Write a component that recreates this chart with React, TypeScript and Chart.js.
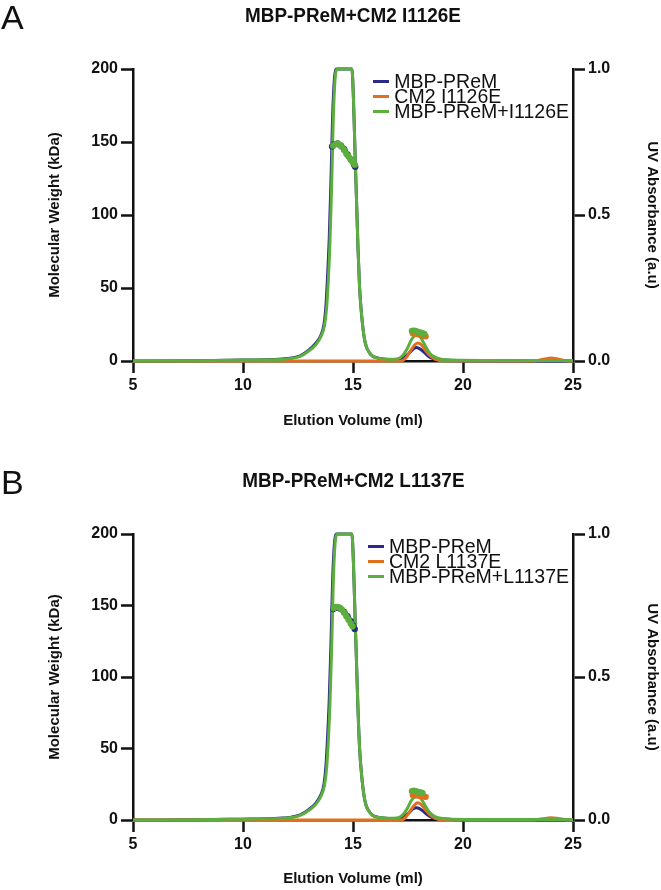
import React, { useEffect, useRef } from 'react';
import { Chart, registerables } from 'chart.js';
Chart.register(...registerables);

const FONT = '"Liberation Sans", Arial, Helvetica, sans-serif';
const BLUE = '#2b2a86';
const ORANGE = '#e0701f';
const GREEN = '#5cae3e';

// Axis settings
const X_MIN = 5, X_MAX = 25, X_STEP = 5;
const MW_MIN = 0, MW_MAX = 200, MW_STEP = 50;
const UV_MIN = 0, UV_MAX = 1, UV_STEP = 0.5;
const X_TITLE = 'Elution Volume (ml)';
const MW_TITLE = 'Molecular Weight (kDa)';
const UV_TITLE = 'UV Absorbance (a.u)';

// ---------- Panel A ----------
const A_LETTER = 'A';
const A_TITLE = 'MBP-PReM+CM2 I1126E';
const A_LABELS = ['MBP-PReM', 'CM2 I1126E', 'MBP-PReM+I1126E'];

const A_BLUE_UV_X = [5, 8, 10, 11, 11.8, 12.2, 12.6, 13.0, 13.3, 13.55, 13.68, 13.77, 13.85, 13.92, 14.0, 14.07, 14.15, 14.25, 14.95, 15.02, 15.09, 15.16, 15.23, 15.3, 15.4, 15.5, 15.6, 15.75, 15.9, 16.2, 16.6, 17.0, 17.3, 17.55, 17.75, 17.88, 18.0, 18.2, 18.4, 18.6, 18.9, 19.5, 21, 25];
const A_BLUE_UV_Y = [0, 0.001, 0.003, 0.004, 0.007, 0.01, 0.018, 0.038, 0.06, 0.09, 0.125, 0.19, 0.3, 0.42, 0.62, 0.83, 0.96, 1.0, 1.0, 0.9, 0.72, 0.55, 0.38, 0.25, 0.15, 0.085, 0.05, 0.028, 0.016, 0.009, 0.005, 0.004, 0.01, 0.027, 0.042, 0.046, 0.043, 0.032, 0.018, 0.009, 0.004, 0.002, 0.001, 0];

const A_ORANGE_UV_X = [5, 17.2, 17.4, 17.6, 17.8, 17.95, 18.1, 18.3, 18.5, 18.75, 19.1, 23.2, 23.6, 24.0, 24.35, 24.7, 25];
const A_ORANGE_UV_Y = [0, 0, 0.01, 0.033, 0.055, 0.062, 0.056, 0.036, 0.018, 0.006, 0.001, 0, 0.005, 0.01, 0.006, 0.001, 0];

const A_GREEN_UV_X = [5, 8, 10, 11, 11.8, 12.2, 12.6, 13.0, 13.3, 13.55, 13.7, 13.8, 13.88, 13.95, 14.03, 14.1, 14.18, 14.28, 14.95, 15.02, 15.09, 15.16, 15.23, 15.3, 15.4, 15.5, 15.6, 15.75, 15.9, 16.2, 16.6, 17.0, 17.25, 17.45, 17.65, 17.8, 17.92, 18.05, 18.2, 18.35, 18.5, 18.7, 19.0, 19.5, 21, 23, 25];
const A_GREEN_UV_Y = [0, 0.001, 0.003, 0.004, 0.006, 0.009, 0.016, 0.035, 0.055, 0.085, 0.12, 0.18, 0.28, 0.4, 0.6, 0.82, 0.96, 1.0, 1.0, 0.9, 0.72, 0.55, 0.38, 0.25, 0.15, 0.085, 0.05, 0.028, 0.016, 0.009, 0.006, 0.007, 0.018, 0.04, 0.072, 0.086, 0.09, 0.083, 0.064, 0.043, 0.026, 0.014, 0.006, 0.003, 0.002, 0.002, 0.001];

const A_BLUE_MW_X = [14.05, 14.15, 14.3, 14.45, 14.6, 14.75, 14.9, 15.05, 15.1];
const A_BLUE_MW_Y = [147, 148.5, 149, 147.5, 145, 141.5, 138, 134.5, 133];
const A_ORANGE_MW_X = [17.72, 17.82, 17.92, 18.02, 18.12, 18.22, 18.3];
const A_ORANGE_MW_Y = [19, 18.8, 18.5, 18.2, 17.8, 17.4, 17];
const A_GREEN_MW_X = [14.1, 14.2, 14.3, 14.4, 14.5, 14.6, 14.7, 14.8, 14.9, 15.0, 15.08];
const A_GREEN_MW_Y = [147.5, 148.5, 149, 148, 146.5, 144.5, 142, 140, 138, 136, 134.5];
const A_GREEN_MW2_X = [17.68, 17.76, 17.84, 17.92, 18.0, 18.08, 18.16, 18.24];
const A_GREEN_MW2_Y = [20.5, 20.8, 20.5, 20, 19.7, 19.4, 19, 18.6];

// ---------- Panel B ----------
const B_LETTER = 'B';
const B_TITLE = 'MBP-PReM+CM2 L1137E';
const B_LABELS = ['MBP-PReM', 'CM2 L1137E', 'MBP-PReM+L1137E'];

const B_BLUE_UV_X = [5, 8, 10, 11, 11.8, 12.2, 12.6, 13.0, 13.3, 13.55, 13.68, 13.77, 13.85, 13.92, 14.0, 14.07, 14.15, 14.25, 14.95, 15.02, 15.09, 15.16, 15.23, 15.3, 15.4, 15.5, 15.6, 15.75, 15.9, 16.2, 16.6, 17.0, 17.3, 17.55, 17.75, 17.88, 18.0, 18.2, 18.4, 18.6, 18.9, 19.5, 21, 25];
const B_BLUE_UV_Y = [0, 0.001, 0.003, 0.004, 0.007, 0.01, 0.018, 0.037, 0.058, 0.09, 0.125, 0.19, 0.3, 0.42, 0.62, 0.83, 0.96, 1.0, 1.0, 0.9, 0.72, 0.55, 0.38, 0.25, 0.15, 0.085, 0.05, 0.028, 0.016, 0.009, 0.005, 0.004, 0.01, 0.026, 0.04, 0.043, 0.041, 0.03, 0.017, 0.008, 0.004, 0.002, 0.001, 0];

const B_ORANGE_UV_X = [5, 17.2, 17.4, 17.6, 17.8, 17.95, 18.1, 18.3, 18.5, 18.75, 19.1, 23.2, 23.6, 24.0, 24.35, 24.7, 25];
const B_ORANGE_UV_Y = [0, 0, 0.01, 0.032, 0.053, 0.06, 0.054, 0.035, 0.018, 0.006, 0.001, 0, 0.004, 0.008, 0.005, 0.001, 0];

const B_GREEN_UV_X = [5, 8, 10, 11, 11.8, 12.2, 12.6, 13.0, 13.3, 13.55, 13.7, 13.8, 13.88, 13.95, 14.03, 14.1, 14.18, 14.28, 14.95, 15.02, 15.09, 15.16, 15.23, 15.3, 15.4, 15.5, 15.6, 15.75, 15.9, 16.2, 16.6, 17.0, 17.25, 17.45, 17.65, 17.8, 17.92, 18.05, 18.2, 18.35, 18.5, 18.7, 19.0, 19.5, 21, 23, 25];
const B_GREEN_UV_Y = [0, 0.001, 0.003, 0.004, 0.006, 0.009, 0.016, 0.034, 0.054, 0.084, 0.12, 0.18, 0.28, 0.4, 0.6, 0.82, 0.96, 1.0, 1.0, 0.9, 0.72, 0.55, 0.38, 0.25, 0.15, 0.085, 0.05, 0.028, 0.016, 0.009, 0.006, 0.007, 0.017, 0.038, 0.068, 0.081, 0.085, 0.079, 0.061, 0.041, 0.025, 0.013, 0.006, 0.003, 0.002, 0.002, 0.001];

const B_BLUE_MW_X = [14.1, 14.2, 14.3, 14.45, 14.6, 14.75, 14.9, 15.0, 15.08];
const B_BLUE_MW_Y = [147.5, 148.5, 148.5, 147.5, 145.5, 142.5, 139, 136, 133.5];
const B_ORANGE_MW_X = [17.72, 17.82, 17.92, 18.02, 18.12, 18.22, 18.3];
const B_ORANGE_MW_Y = [17.5, 17.3, 17.2, 17, 16.8, 16.5, 16.2];
const B_GREEN_MW_X = [14.12, 14.2, 14.3, 14.4, 14.5, 14.6, 14.7, 14.8, 14.9, 14.98];
const B_GREEN_MW_Y = [148, 149, 149, 148.5, 147, 145, 142.5, 140, 137.5, 135.5];
const B_GREEN_MW2_X = [17.68, 17.76, 17.84, 17.92, 18.0, 18.08, 18.16];
const B_GREEN_MW2_Y = [20.2, 20.5, 20.2, 19.8, 19.5, 19.2, 18.8];

function pts(xs: number[], ys: number[]) {
  return xs.map((x, i) => ({ x, y: ys[i] }));
}

type PanelProps = {
  top: number;
  height: number;
  plotTop: number;
  plotBottom: number;
  xTitleY: number;
  letter: string;
  title: string;
  labels: string[];
  uv: { x: number[]; y: number[] }[];
  mw: { x: number[]; y: number[]; c: string }[];
};

const PLOT_LEFT = 133;
const PLOT_RIGHT = 573;
const W = 661;

function Panel(p: PanelProps) {
  const ref = useRef<HTMLCanvasElement | null>(null);
  useEffect(() => {
    const colors = [BLUE, ORANGE, GREEN];
    const uvSets = p.uv.map((s, i) => ({
      label: p.labels[i],
      data: pts(s.x, s.y),
      yAxisID: 'yR',
      borderColor: colors[i],
      backgroundColor: colors[i],
      borderWidth: 3,
      pointRadius: 0,
      cubicInterpolationMode: 'monotone' as const,
      clip: false as any,
      fill: false,
    }));
    const mwSets = p.mw.map((s) => ({
      label: 'mw',
      data: pts(s.x, s.y),
      yAxisID: 'y',
      borderColor: s.c,
      backgroundColor: s.c,
      borderWidth: 5,
      pointRadius: 3.2,
      pointBorderWidth: 0,
      tension: 0.3,
      clip: false as any,
      fill: false,
    }));
    const datasets = [...mwSets.slice().reverse(), uvSets[2], uvSets[1], uvSets[0]];
    const tickFont = { family: FONT, size: 16, weight: 'bold' as const };
    const titleFont = { family: FONT, size: 15, weight: 'bold' as const };
    const gridOpts = {
      display: true,
      drawOnChartArea: false,
      drawTicks: true,
      tickLength: 12,
      tickWidth: 2.5,
      tickColor: '#111',
    };
    const border = { display: true, width: 2.5, color: '#111' };
    const H = p.height;
    const titleLH = 15 * 1.2;
    const xBoxBottom = p.xTitleY + titleLH / 2 + 2;
    const padBottom = Math.max(0, H - xBoxBottom);
    const chart = new Chart(ref.current as HTMLCanvasElement, {
      type: 'line',
      data: { datasets: datasets as any },
      options: {
        responsive: false,
        animation: false,
        devicePixelRatio: 1,
        layout: { padding: { top: p.plotTop, left: 42, right: 0, bottom: padBottom } },
        plugins: { legend: { display: false }, tooltip: { enabled: false }, title: { display: false } },
        scales: {
          x: {
            type: 'linear',
            min: X_MIN,
            max: X_MAX,
            grid: gridOpts,
            border,
            ticks: { stepSize: X_STEP, font: tickFont, color: '#111', padding: 3, maxRotation: 0 },
            title: { display: true, text: X_TITLE, font: titleFont, color: '#111', padding: { top: 0, bottom: 2 } },
            afterFit: (s: any) => { s.height = H - padBottom - p.plotBottom; },
          },
          y: {
            type: 'linear',
            position: 'left',
            min: MW_MIN,
            max: MW_MAX,
            grid: gridOpts,
            border,
            ticks: { stepSize: MW_STEP, font: tickFont, color: '#111', padding: 3 },
            title: { display: true, text: MW_TITLE, font: titleFont, color: '#111', padding: 4 },
            afterFit: (s: any) => { s.width = PLOT_LEFT - 42; },
          },
          yR: {
            type: 'linear',
            position: 'right',
            min: UV_MIN,
            max: UV_MAX,
            grid: gridOpts,
            border,
            ticks: { stepSize: UV_STEP, font: tickFont, color: '#111', padding: 3, callback: (v: any) => Number(v).toFixed(1) },
            title: { display: true, text: UV_TITLE, font: titleFont, color: '#111', padding: 0 },
            afterFit: (s: any) => { s.width = W - PLOT_RIGHT; },
          },
        },
      } as any,
    });
    return () => chart.destroy();
  }, []);

  const colors = [BLUE, ORANGE, GREEN];
  const center = (PLOT_LEFT + PLOT_RIGHT) / 2;
  return (
    <div style={{ position: 'absolute', left: 0, top: p.top, width: W, height: p.height }}>
      <canvas ref={ref} width={W} height={p.height} style={{ display: 'block', width: W, height: p.height }} />
      <div style={{ position: 'absolute', left: 1, top: p.plotTop - 69, font: `34px ${FONT}`, lineHeight: '34px', color: '#111' }}>{p.letter}</div>
      <div style={{ position: 'absolute', left: center - 200, width: 400, top: p.plotTop - 66, textAlign: 'center', color: '#111' }}>
        <span style={{ display: 'inline-block', font: `bold 21px ${FONT}`, lineHeight: '24px', transform: 'scaleX(0.9)', whiteSpace: 'nowrap' }}>{p.title}</span>
      </div>
      <div style={{ position: 'absolute', right: W - 569, top: p.plotTop + 5 }}>
        {p.labels.map((l, i) => (
          <div key={i} style={{ display: 'flex', alignItems: 'center', height: 15, font: `19.5px ${FONT}`, lineHeight: '15px', color: '#111', whiteSpace: 'nowrap' }}>
            <span style={{ display: 'inline-block', width: 16, height: 3, background: colors[i], marginRight: 5 }} />
            <span>{l}</span>
          </div>
        ))}
      </div>
    </div>
  );
}

export default function App() {
  return (
    <div style={{ position: 'absolute', left: 0, top: 0, width: W, height: 890, background: '#fff' }}>
      <Panel
        top={0}
        height={445}
        plotTop={69}
        plotBottom={361}
        xTitleY={421}
        letter={A_LETTER}
        title={A_TITLE}
        labels={A_LABELS}
        uv={[{ x: A_BLUE_UV_X, y: A_BLUE_UV_Y }, { x: A_ORANGE_UV_X, y: A_ORANGE_UV_Y }, { x: A_GREEN_UV_X, y: A_GREEN_UV_Y }]}
        mw={[
          { x: A_BLUE_MW_X, y: A_BLUE_MW_Y, c: BLUE },
          { x: A_ORANGE_MW_X, y: A_ORANGE_MW_Y, c: ORANGE },
          { x: A_GREEN_MW_X, y: A_GREEN_MW_Y, c: GREEN },
          { x: A_GREEN_MW2_X, y: A_GREEN_MW2_Y, c: GREEN },
        ]}
      />
      <Panel
        top={445}
        height={445}
        plotTop={89}
        plotBottom={375}
        xTitleY={435}
        letter={B_LETTER}
        title={B_TITLE}
        labels={B_LABELS}
        uv={[{ x: B_BLUE_UV_X, y: B_BLUE_UV_Y }, { x: B_ORANGE_UV_X, y: B_ORANGE_UV_Y }, { x: B_GREEN_UV_X, y: B_GREEN_UV_Y }]}
        mw={[
          { x: B_BLUE_MW_X, y: B_BLUE_MW_Y, c: BLUE },
          { x: B_ORANGE_MW_X, y: B_ORANGE_MW_Y, c: ORANGE },
          { x: B_GREEN_MW_X, y: B_GREEN_MW_Y, c: GREEN },
          { x: B_GREEN_MW2_X, y: B_GREEN_MW2_Y, c: GREEN },
        ]}
      />
    </div>
  );
}
